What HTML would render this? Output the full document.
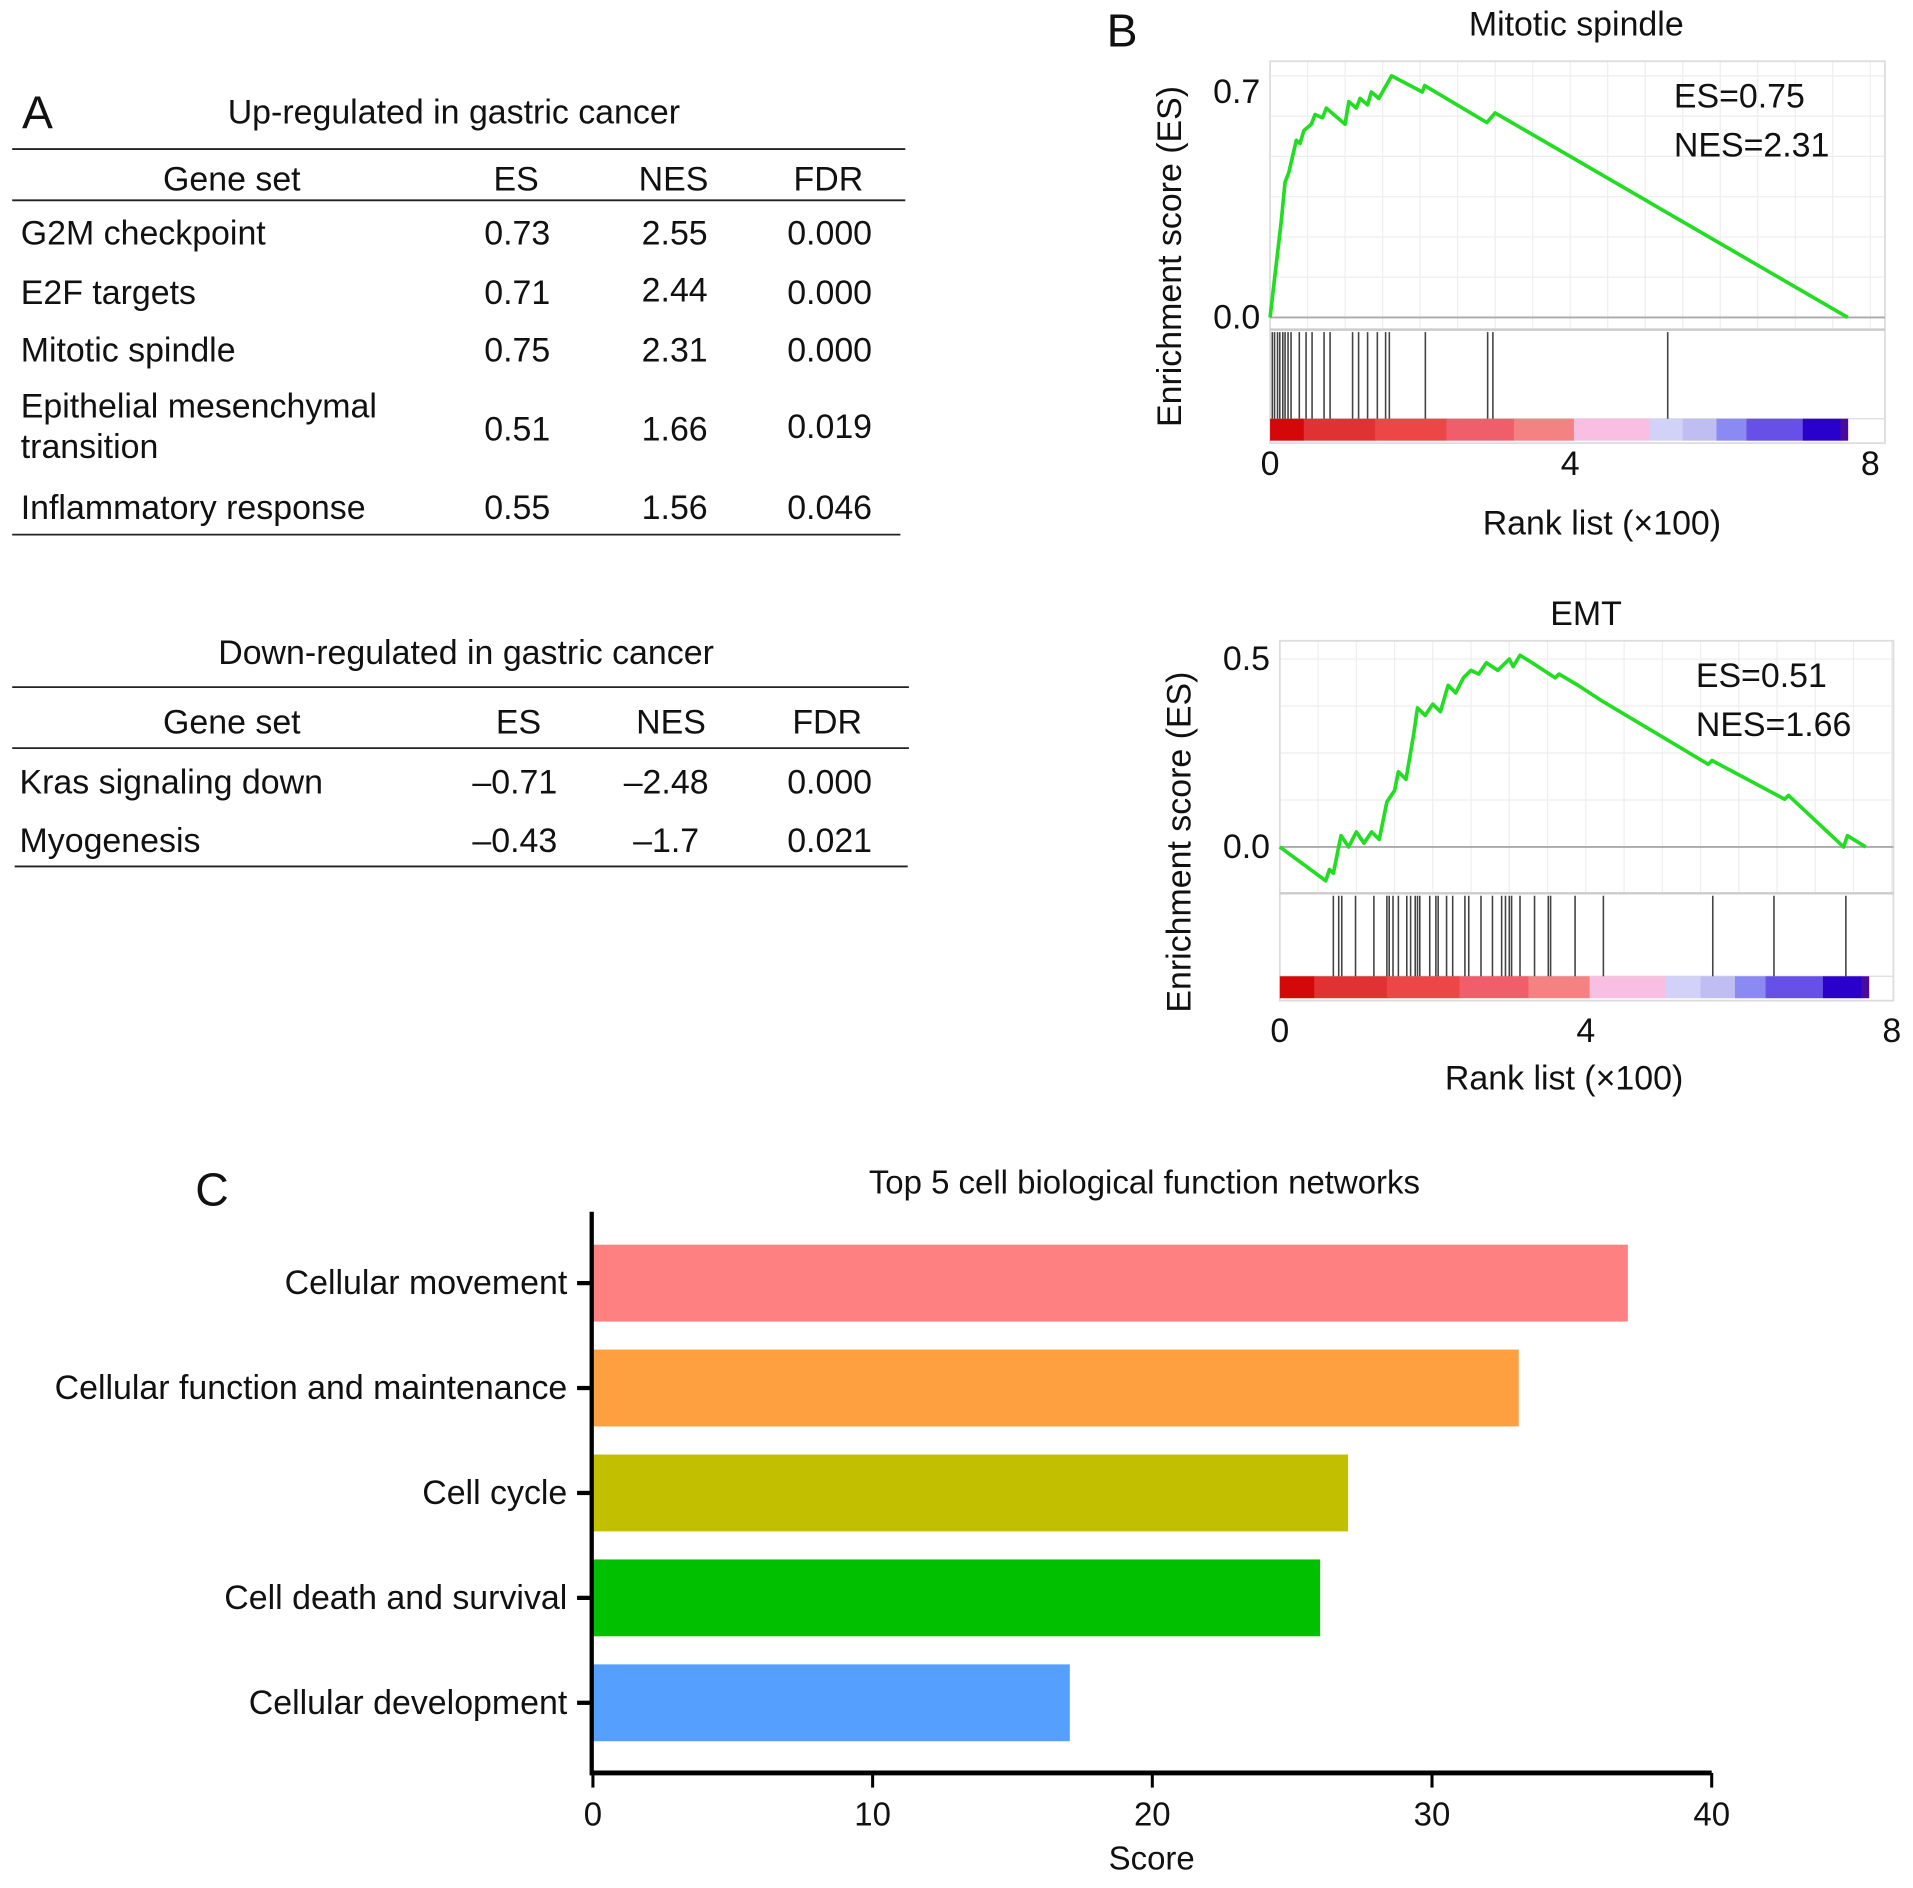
<!DOCTYPE html>
<html><head><meta charset="utf-8"><style>
html,body{margin:0;padding:0;background:#fff;}
svg text{font-family:"Liberation Sans",Arial,sans-serif;fill:#111;}
</style></head><body>
<svg width="1913" height="1883" viewBox="0 0 1568 1543" xmlns="http://www.w3.org/2000/svg">
<g id="panelA" font-size="27.8">
<text x="18" y="105" font-size="38">A</text>
<text x="372" y="101" text-anchor="middle">Up-regulated in gastric cancer</text>
<line x1="10" y1="122" x2="742" y2="122" stroke="#222" stroke-width="1.5"/>
<g text-anchor="middle">
<text x="190" y="156">Gene set</text><text x="423" y="156">ES</text><text x="552" y="156">NES</text><text x="679" y="156">FDR</text></g>
<line x1="10" y1="164" x2="742" y2="164" stroke="#222" stroke-width="1.5"/>
<g>
<text x="17" y="200">G2M checkpoint</text><text x="424" y="200" text-anchor="middle">0.73</text><text x="553" y="200" text-anchor="middle">2.55</text><text x="680" y="200" text-anchor="middle">0.000</text>
<text x="17" y="249">E2F targets</text><text x="424" y="249" text-anchor="middle">0.71</text><text x="553" y="247" text-anchor="middle">2.44</text><text x="680" y="249" text-anchor="middle">0.000</text>
<text x="17" y="296">Mitotic spindle</text><text x="424" y="296" text-anchor="middle">0.75</text><text x="553" y="296" text-anchor="middle">2.31</text><text x="680" y="296" text-anchor="middle">0.000</text>
<text x="17" y="342">Epithelial mesenchymal</text><text x="17" y="375">transition</text><text x="424" y="361" text-anchor="middle">0.51</text><text x="553" y="361" text-anchor="middle">1.66</text><text x="680" y="359" text-anchor="middle">0.019</text>
<text x="17" y="425">Inflammatory response</text><text x="424" y="425" text-anchor="middle">0.55</text><text x="553" y="425" text-anchor="middle">1.56</text><text x="680" y="425" text-anchor="middle">0.046</text>
</g>
<line x1="10" y1="438" x2="738" y2="438" stroke="#222" stroke-width="1.5"/>
<text x="382" y="544" text-anchor="middle">Down-regulated in gastric cancer</text>
<line x1="10" y1="563" x2="745" y2="563" stroke="#222" stroke-width="1.5"/>
<g text-anchor="middle">
<text x="190" y="601">Gene set</text><text x="425" y="601">ES</text><text x="550" y="601">NES</text><text x="678" y="601">FDR</text></g>
<line x1="10" y1="613" x2="745" y2="613" stroke="#222" stroke-width="1.5"/>
<g>
<text x="16" y="650">Kras signaling down</text><text x="422" y="650" text-anchor="middle">–0.71</text><text x="546" y="650" text-anchor="middle">–2.48</text><text x="680" y="650" text-anchor="middle">0.000</text>
<text x="16" y="698">Myogenesis</text><text x="422" y="698" text-anchor="middle">–0.43</text><text x="546" y="698" text-anchor="middle">–1.7</text><text x="680" y="698" text-anchor="middle">0.021</text>
</g>
<line x1="12" y1="710" x2="744" y2="710" stroke="#222" stroke-width="1.5"/>
</g>
<g id="gsea"></g>
<g id="bars"></g>
</svg>
<script>
// Mitotic spindle GSEA
const msRank=[0,0.05,0.1,0.15,0.2,0.25,0.3,0.35,0.4,0.45,0.55,0.6,0.7,0.75,1.0,1.05,1.15,1.2,1.3,1.35,1.45,1.62,2.03,2.06,2.89,3.0,7.7];
const msES=[0,0.1,0.2,0.3,0.42,0.45,0.5,0.55,0.54,0.58,0.6,0.63,0.62,0.65,0.6,0.67,0.65,0.68,0.66,0.7,0.68,0.75,0.70,0.72,0.605,0.635,0];
const msHits=[0.03,0.06,0.1,0.13,0.17,0.2,0.24,0.28,0.39,0.48,0.56,0.72,0.8,1.1,1.18,1.3,1.43,1.54,1.59,2.07,2.9,2.97,5.3];
// EMT GSEA
const emtRank=[0,0.6,0.65,0.7,0.8,0.9,1.0,1.1,1.2,1.3,1.4,1.5,1.55,1.65,1.75,1.8,1.9,2.0,2.1,2.2,2.3,2.4,2.5,2.6,2.7,2.85,3.0,3.05,3.14,3.3,3.6,3.65,3.9,4.2,5.6,5.65,6.6,6.65,7.37,7.42,7.66];
const emtES=[0,-0.09,-0.06,-0.07,0.03,0.0,0.04,0.01,0.04,0.02,0.12,0.15,0.2,0.18,0.3,0.37,0.35,0.38,0.36,0.43,0.41,0.45,0.47,0.46,0.49,0.47,0.5,0.48,0.51,0.49,0.45,0.46,0.43,0.39,0.22,0.23,0.127,0.137,0,0.03,0];
const emtHits=[0.7,0.77,0.81,0.99,1.23,1.4,1.43,1.48,1.55,1.66,1.71,1.77,1.8,1.83,1.96,2.04,2.07,2.18,2.26,2.42,2.47,2.63,2.78,2.9,2.95,3.0,3.03,3.14,3.33,3.51,3.54,3.86,4.23,5.66,6.46,7.4];
const cbStart=[0,0.45,1.4,2.35,3.25,4.05,5.05,5.5,5.95,6.35,7.1,7.6];
const cbEnd=[0.45,1.4,2.35,3.25,4.05,5.05,5.5,5.95,6.35,7.1,7.6,7.7];
const cbColor=['#d40808','#e03232','#ec4646','#f05e6c','#f58282','#f9bfe2','#d2d2f8','#bfbdf2','#8a8af2','#6650e8','#2a00cc','#4a0aa0'];
const xTicks=[0,4,8];
// Bar chart
const cats=['Cellular movement','Cellular function and maintenance','Cell cycle','Cell death and survival','Cellular development'];
const scores=[37.0,33.1,27.0,26.0,17.05];
const barColors=['#fe8080','#fea040','#c2be00','#00c000','#55a0ff'];
const scoreTicks=[0,10,20,30,40];

const NS='http://www.w3.org/2000/svg';
function mk(tag,attrs,parent,txt){const e=document.createElementNS(NS,tag);for(const k in attrs)e.setAttribute(k,attrs[k]);if(txt!==undefined)e.textContent=txt;parent.appendChild(e);return e;}

function gsea(cfg){
  const g=mk('g',{},document.getElementById('gsea'));
  
  
  const X=v=>cfg.x0+v*cfg.xs, Y=v=>cfg.y0-v*cfg.ys;
  for(let i=0;i<=16;i++){const gx=cfg.x0+i*cfg.xs*0.5;if(gx<=cfg.right)mk('line',{x1:gx,y1:cfg.top,x2:gx,y2:cfg.sep,stroke:'#eee','stroke-width':1},g);}
  for(let v=cfg.gmin;v<=cfg.gmax+1e-9;v+=0.125){mk('line',{x1:cfg.x0,y1:Y(v),x2:cfg.right,y2:Y(v),stroke:'#eee','stroke-width':1},g);}
  mk('rect',{x:cfg.x0,y:cfg.top,width:cfg.right-cfg.x0,height:cfg.bottom-cfg.top,fill:'none',stroke:'#ddd','stroke-width':1.5},g);
  mk('line',{x1:cfg.x0,y1:Y(0),x2:cfg.right,y2:Y(0),stroke:'#aaa','stroke-width':1.5},g);
  mk('line',{x1:cfg.x0,y1:cfg.sep,x2:cfg.right,y2:cfg.sep,stroke:'#ccc','stroke-width':2},g);
  mk('line',{x1:cfg.x0,y1:cfg.cb0,x2:cfg.right,y2:cfg.cb0,stroke:'#ddd','stroke-width':1},g);
  for(let i=0;i<cbStart.length;i++){const r=mk('rect',{x:X(cbStart[i]),y:cfg.cb0,width:X(cbEnd[i])-X(cbStart[i])+0.3,height:cfg.cb1-cfg.cb0,fill:cbColor[i]},g);
    
    }
  cfg.hits.forEach(h=>{const l=mk('line',{x1:X(h),y1:cfg.sep+2,x2:X(h),y2:cfg.cb0,stroke:'#444','stroke-width':1.3},g);
    
    });
  const p=mk('polyline',{points:cfg.rank.map((r,i)=>X(r)+','+Y(cfg.es[i])).join(' '),fill:'none',stroke:'#22dd22','stroke-width':3,'stroke-linejoin':'round'},g);
  
  
  cfg.yt.forEach(v=>{mk('text',{x:cfg.x0-8,y:Y(v)+9,'text-anchor':'end','font-size':27.8},g,v.toFixed(1));});
  xTicks.forEach(v=>{mk('text',{x:X(v),y:cfg.tickY,'text-anchor':'middle','font-size':27.8},g,String(v));});
  const t=mk('text',{x:cfg.tx,y:cfg.ty,'text-anchor':'middle','font-size':27.8},g,cfg.title);
  
  
  mk('text',{x:cfg.rlx,y:cfg.rly,'text-anchor':'middle','font-size':27.8},g,'Rank list (×100)');
  mk('text',{x:0,y:0,'text-anchor':'middle','font-size':27.8,transform:`translate(${cfg.ylx},${cfg.yly}) rotate(-90)`},g,'Enrichment score (ES)');
  mk('text',{x:cfg.esx,y:cfg.esy,'font-size':27.8},g,cfg.l1);
  mk('text',{x:cfg.esx,y:cfg.esy+40,'font-size':27.8},g,cfg.l2);
}
gsea({name:'gsea-mitotic-spindle',x0:1041,xs:61.5,y0:260,ys:264,top:50,right:1545,sep:270,cb0:343,cb1:361,bottom:363,gmin:0,gmax:0.75,
  rank:msRank,es:msES,hits:msHits,yt:[0,0.7],tickY:389,title:'Mitotic spindle',tx:1292,ty:29,rlx:1313,rly:438,ylx:968,yly:210,esx:1372,esy:88,l1:'ES=0.75',l2:'NES=2.31'});
gsea({name:'gsea-emt',x0:1049,xs:62.7,y0:694,ys:308,top:525,right:1552,sep:732,cb0:800,cb1:818,bottom:820,gmin:-0.125,gmax:0.5,
  rank:emtRank,es:emtES,hits:emtHits,yt:[0,0.5],tickY:854,title:'EMT',tx:1300,ty:512,rlx:1282,rly:893,ylx:976,yly:690,esx:1390,esy:563,l1:'ES=0.51',l2:'NES=1.66'});
mk('text',{x:907,y:38,'font-size':38},document.getElementById('gsea'),'B');

(function(){
  const g=document.getElementById('bars');
  
  
  const x0=486,xs=(1403-486)/40,top0=1020,step=86,bh=63;
  const X=v=>x0+v*xs;
  mk('text',{x:160,y:988,'font-size':38},g,'C');
  mk('text',{x:938,y:978,'text-anchor':'middle','font-size':27},g,'Top 5 cell biological function networks');
  cats.forEach((c,i)=>{
    const y=top0+i*step;
    const r=mk('rect',{x:x0,y:y,width:X(scores[i])-x0,height:bh,fill:barColors[i]},g);
    
    
    mk('line',{x1:473,y1:y+bh/2,x2:486,y2:y+bh/2,stroke:'#000','stroke-width':3.5},g);
    const t=mk('text',{x:465,y:y+bh/2+9,'text-anchor':'end','font-size':27.8},g,c);
    
    
  });
  mk('line',{x1:485,y1:993,x2:485,y2:1455,stroke:'#000','stroke-width':3.5},g);
  mk('line',{x1:484,y1:1453,x2:1403,y2:1453,stroke:'#000','stroke-width':4},g);
  scoreTicks.forEach(v=>{
    mk('line',{x1:X(v),y1:1453,x2:X(v),y2:1465,stroke:'#000','stroke-width':2.5},g);
    mk('text',{x:X(v),y:1496,'text-anchor':'middle','font-size':27},g,String(v));
  });
  mk('text',{x:944,y:1532,'text-anchor':'middle','font-size':27},g,'Score');
})();
</script>
</body></html>
